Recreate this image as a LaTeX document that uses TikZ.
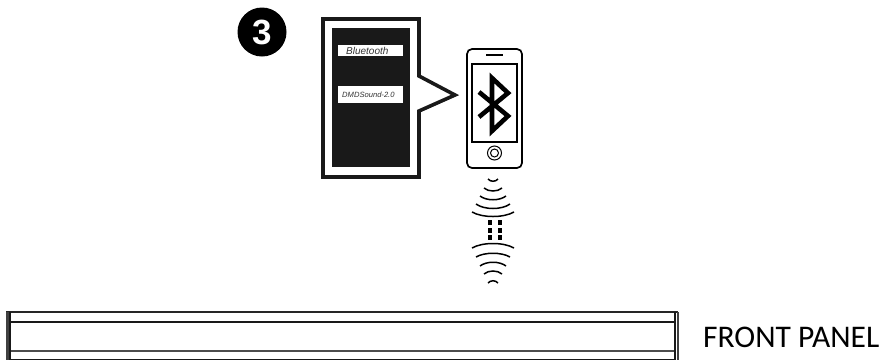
\documentclass[tikz,border=0pt]{standalone}
\usepackage{fontspec}
\setmainfont{Liberation Sans}
\newfontfamily\panelfont{Carlito}
\usepackage{tikz}
\usetikzlibrary{
	positioning,
	calc
}

\begin{document}
\begin{tikzpicture}[
    x=1pt, y=-1pt,
    badge/.style={circle, fill=black, text=white, inner sep=0pt, minimum size=49pt, font=\fontsize{35}{35}\selectfont\bfseries},
    menutext/.style={rectangle, fill=white, text=black!80, anchor=north west, inner sep=0pt, text width=65pt, align=left},
    outline/.style={draw=black, line width=1.7pt, rounded corners=5pt},
    wave/.style={draw=black, line width=1.5pt},
    panel/.style={draw=black!90, line width=1.2pt},
    slot/.style={draw=black, line width=4pt}
]
\useasboundingbox (0,0) rectangle (892,360);

% Callout
\draw[draw=black!90, line width=3.6pt, miter limit=10] (323,19) -- (419,19) -- (419,76) -- (455,95) -- (419,111) -- (419,177) -- (323,177) -- cycle;
\fill[black!90] (332,28) rectangle (410,167);
\node[menutext, minimum height=11pt, text height=8pt, text depth=1pt, font=\fontsize{10}{10}\selectfont\itshape] (menutop) at (338,45) {\hspace{8pt}Bluetooth};
\node[menutext, minimum height=17pt, font=\fontsize{7.6}{7.6}\selectfont\itshape] (menubottom) at (338,86) {\hspace{4pt}DMDSound-2.0};

% Number
\node[badge] (number) at (262,32) {3};

% Phone
\draw[outline] (467,49) rectangle (522,168);
\draw[draw=black, line width=1.4pt] (472,64) rectangle (517,142);
\draw[draw=black, line width=2pt] (486,54.5) -- (503,54.5);
\node[circle, draw=black, line width=1pt, minimum size=14pt, inner sep=0pt] (button) at (494.5,153) {};
\node[circle, draw=black, line width=1pt, minimum size=8pt, inner sep=0pt] at (button) {};
\draw[draw=black, line width=4.6pt, miter limit=10] (479,92) -- (508,116) -- (492,131) -- (492,78) -- (508,93) -- (479,117);

% Waves
\foreach \w/\a/\b in {5/179/181, 9/188/191, 13/196/200, 17/204/209, 21/212/217}
    \draw[wave] (493-\w,\a) .. controls (493-\w/2,\b+1) and (493+\w/2,\b+1) .. (493+\w,\a);
\foreach \w/\a/\b in {21/248/243, 17/257/253, 13/266/262, 9/274/271, 5/283/281}
    \draw[wave] (493-\w,\a) .. controls (493-\w/2,\b-1) and (493+\w/2,\b-1) .. (493+\w,\a);
\foreach \x in {489.5,499.5}
    \foreach \a/\b in {220/225, 228/233, 235/240}
        \draw[slot] (\x,\a) -- (\x,\b);

% Front panel
\draw[draw=black!85, line width=2pt] (6,312) -- (678,312);
\draw[panel] (7,322) -- (675,322);
\draw[draw=black!70, line width=1.4pt] (7,351) -- (675,351);
\draw[panel] (10,359.5) -- (675,359.5);
\draw[draw=black!75, line width=2.2pt] (7.5,312) -- (7.5,360);
\draw[panel] (10,312) -- (10,360);
\draw[panel] (675,312) -- (675,360);
\draw[draw=black!75, line width=2pt] (678,312) -- (678,360);
\node[anchor=west, inner sep=0pt, font=\panelfont\fontsize{31.5}{31.5}\selectfont] (frontlabel) at (703,337) {FRONT PANEL};

\end{tikzpicture}
\end{document}
